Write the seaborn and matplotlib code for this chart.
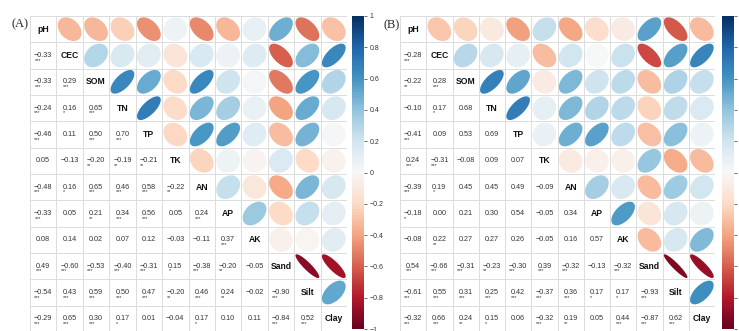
import numpy as np
import seaborn as sns
import matplotlib.pyplot as plt
from matplotlib.patches import Polygon
from matplotlib.colors import Normalize
from matplotlib.ticker import FuncFormatter

variables = ["pH", "CEC", "SOM", "TN", "TP", "TK", "AN", "AP", "AK", "Sand", "Silt", "Clay"]

# lower triangle, row i holds correlations with the first i variables
lower_a = [
    [],
    [-0.33],
    [-0.33, 0.29],
    [-0.24, 0.16, 0.65],
    [-0.46, 0.11, 0.50, 0.70],
    [0.05, -0.13, -0.20, -0.19, -0.21],
    [-0.48, 0.16, 0.65, 0.46, 0.58, -0.22],
    [-0.33, 0.05, 0.21, 0.34, 0.56, 0.05, 0.24],
    [0.08, 0.14, 0.02, 0.07, 0.12, -0.03, -0.11, 0.37],
    [0.49, -0.60, -0.53, -0.40, -0.31, 0.15, -0.38, -0.20, -0.05],
    [-0.54, 0.43, 0.59, 0.50, 0.47, -0.20, 0.46, 0.24, -0.02, -0.90],
    [-0.29, 0.65, 0.30, 0.17, 0.01, -0.04, 0.17, 0.10, 0.11, -0.84, 0.52],
]
stars_a = [
    [],
    ["***"],
    ["***", "***"],
    ["***", "*", "***"],
    ["***", "", "***", "***"],
    ["", "", "**", "**", "**"],
    ["***", "*", "***", "***", "***", "**"],
    ["***", "", "**", "***", "***", "", "***"],
    ["", "", "", "", "", "", "", "***"],
    ["***", "***", "***", "***", "***", "*", "***", "**", ""],
    ["***", "***", "***", "***", "***", "**", "***", "**", "", "***"],
    ["***", "***", "***", "*", "", "", "*", "", "", "***", "***"],
]

lower_b = [
    [],
    [-0.28],
    [-0.22, 0.28],
    [-0.10, 0.17, 0.68],
    [-0.41, 0.09, 0.53, 0.69],
    [0.24, -0.31, -0.08, 0.09, 0.07],
    [-0.39, 0.19, 0.45, 0.45, 0.49, -0.09],
    [-0.18, 0.00, 0.21, 0.30, 0.54, -0.05, 0.34],
    [-0.08, 0.22, 0.27, 0.27, 0.26, -0.05, 0.16, 0.57],
    [0.54, -0.66, -0.31, -0.23, -0.30, 0.39, -0.32, -0.13, -0.32],
    [-0.61, 0.55, 0.31, 0.25, 0.42, -0.37, 0.36, 0.17, 0.17, -0.93],
    [-0.32, 0.66, 0.24, 0.15, 0.06, -0.32, 0.19, 0.05, 0.44, -0.87, 0.62],
]
stars_b = [
    [],
    ["***"],
    ["**", "***"],
    ["", "*", ""],
    ["***", "", "", ""],
    ["***", "***", "", "", ""],
    ["***", "*", "", "", "", ""],
    ["*", "", "", "", "", "", ""],
    ["", "**", "", "", "", "", "", ""],
    ["***", "***", "***", "**", "***", "***", "***", "", "***"],
    ["***", "***", "***", "***", "***", "***", "***", "*", "*", "***"],
    ["***", "***", "**", "*", "", "***", "**", "", "***", "***", "***"],
]

cbar_ticks = [1, 0.8, 0.6, 0.4, 0.2, 0, -0.2, -0.4, -0.6, -0.8, -1]


def full_matrix(lower):
    n = len(lower)
    m = np.eye(n)
    for i, row in enumerate(lower):
        for j, v in enumerate(row):
            m[i, j] = v
            m[j, i] = v
    return m


def tick_fmt(v, pos):
    s = f"{round(v, 1):g}"
    return s.replace("-", "\u2212")


def draw_panel(fig, rect, cbar_rect, lower, stars, tag, tag_xy, cbar_labels=True):
    corr = full_matrix(lower)
    n = len(variables)
    ax = fig.add_axes(rect)
    cax = fig.add_axes(cbar_rect)
    cmap = plt.get_cmap("RdBu")
    norm = Normalize(-1, 1)

    # every cell masked: seaborn only gives the frame and the colour bar
    sns.heatmap(corr, mask=np.ones_like(corr, dtype=bool), cmap=cmap,
                vmin=-1, vmax=1, ax=ax, cbar_ax=cax,
                xticklabels=False, yticklabels=False,
                cbar_kws={"ticks": cbar_ticks})
    cax.yaxis.set_major_formatter(FuncFormatter(tick_fmt))
    cax.tick_params(labelsize=5, length=2, width=0.5, colors="#333333", pad=2,
                    labelright=cbar_labels)

    for k in range(n + 1):
        ax.axhline(k, color="#dcdcdc", lw=0.7, zorder=1)
        ax.axvline(k, color="#dcdcdc", lw=0.7, zorder=1)

    t = np.linspace(0, 2 * np.pi, 100)
    for i in range(n):
        ax.text(i + 0.5, i + 0.5, variables[i], ha="center", va="center",
                fontsize=6.2, fontweight="bold", color="#111111")
        for j in range(i + 1, n):
            r = corr[i, j]
            d = np.arccos(r)
            ex = 0.45 * np.cos(t + d / 2)
            ey = 0.45 * np.cos(t - d / 2)
            pts = np.column_stack([j + 0.5 + ex, i + 0.5 - ey])
            ax.add_patch(Polygon(pts, closed=True, facecolor=cmap(norm(r)),
                                 edgecolor="none", zorder=2))
        for j in range(i):
            r = corr[i, j]
            label = f"{r:.2f}".replace("-", "\u2212")
            txt = ax.text(j + 0.5, i + 0.5, label, ha="center", va="center",
                          fontsize=5.2, color="#333333")
            if stars[i][j]:
                ax.annotate(stars[i][j], xy=(0.02, 0), xycoords=txt,
                            xytext=(0, 1), textcoords="offset points",
                            ha="left", va="top", fontsize=4, color="#333333")
    ax.set_xlim(0, n)
    ax.set_ylim(n, 0)
    for s in ax.spines.values():
        s.set_visible(False)
    fig.text(tag_xy[0], tag_xy[1], tag, ha="left", va="center",
             fontsize=9, family="Liberation Serif")


sns.set_theme(style="white")
plt.rcParams["font.family"] = ["Liberation Sans", "DejaVu Sans"]

W, H = 739, 331
fig = plt.figure(figsize=(W / 100, H / 100), dpi=100)
fig.patch.set_facecolor("white")

draw_panel(fig, [30 / W, (H - 332) / H, 317 / W, 316 / H],
           [352 / W, (H - 329) / H, 12 / W, 313 / H],
           lower_a, stars_a, "(A)", (11 / W, (H - 24) / H))
# panel B's colour bar labels fall past the right edge in the reference
draw_panel(fig, [400 / W, (H - 332) / H, 315 / W, 316 / H],
           [722 / W, (H - 329) / H, 12 / W, 313 / H],
           lower_b, stars_b, "(B)", (383 / W, (H - 25) / H), cbar_labels=False)

fig.savefig("out.png", dpi=100)
